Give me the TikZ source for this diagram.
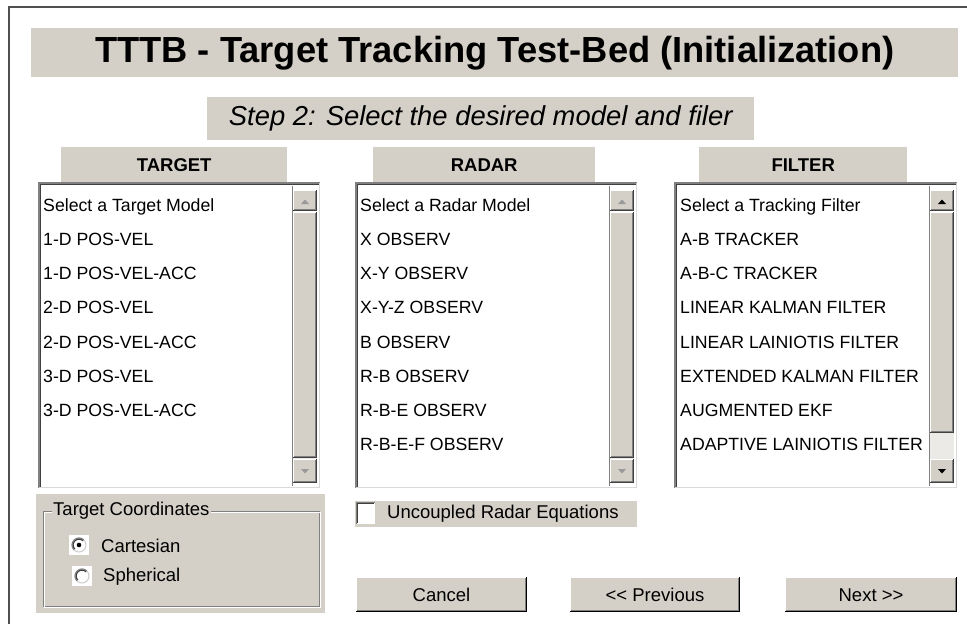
\documentclass[tikz,border=0pt]{standalone}
\usepackage{fontspec}
\setmainfont{Liberation Sans}
\definecolor{winbg}{HTML}{D4D0C8}
\definecolor{winshadow}{HTML}{808080}
\definecolor{windark}{HTML}{404040}
\definecolor{wintrack}{HTML}{ECEAE6}
\definecolor{framecol}{HTML}{505050}
\newcommand\setfs[1]{\fontsize{#1}{#1}\selectfont}
% raised 3D box: x0 y0 x1 y1
\newcommand\raisedbox[4]{%
  \fill[winbg] (#1,#2) rectangle (#3,#4);
  \draw[white,line width=1pt] ({#1+0.5},{#4-1}) -- ({#1+0.5},{#2+0.5}) -- ({#3-1},{#2+0.5});
  \draw[winshadow,line width=1pt] ({#1+1},{#4-1.5}) -- ({#3-1.5},{#4-1.5}) -- ({#3-1.5},{#2+1});
  \draw[windark,line width=1pt] (#1,{#4-0.5}) -- ({#3-0.5},{#4-0.5}) -- ({#3-0.5},#2);
}
% list box: name, x0, x1, arrow colour, thumb end y
\newcommand\mklist[5]{%
  \fill[white] (#2,182) rectangle (#3,488);
  \draw[winshadow,line width=1.5pt] (#2+0.75,488) -- (#2+0.75,182.75) -- (#3,182.75);
  \draw[windark,line width=1pt] (#2+2,487) -- (#2+2,184) -- (#3-1,184);
  \draw[white!85!black,line width=1pt] (#2+1,487.5) -- (#3-0.5,487.5) -- (#3-0.5,183);
  \fill[wintrack] (#3-27,212) rectangle (#3-3,459);
  \raisedbox{#3-27}{190}{#3-3}{211}
  \raisedbox{#3-27}{212}{#3-3}{#5}
  \raisedbox{#3-27}{459}{#3-3}{483}
  \fill[#4] (#3-19,204) -- (#3-11,204) -- (#3-15,199.5) -- cycle;
  \fill[#4] (#3-19,469) -- (#3-11,469) -- (#3-15,473.5) -- cycle;
  \draw[winshadow,line width=0.8pt] (#3-28,186) -- (#3-28,486);
}
\begin{document}
\begin{tikzpicture}[x=1pt,y=-1pt,
  bar/.style={fill=winbg,inner sep=0pt,anchor=north west,text=black},
  item/.style={anchor=base west,inner sep=0pt,font=\setfs{17.7}},
  head/.style={bar,font=\setfs{18.5}\bfseries},
  btntext/.style={anchor=base,inner sep=0pt,font=\setfs{18.5}},
  lbl/.style={inner sep=0pt,font=\setfs{18.5}}]
\useasboundingbox (0,0) rectangle (967,624);
\fill[white] (0,0) rectangle (967,624);
% outer frame
\draw[framecol,line width=1.5pt] (9,624) -- (9,7) -- (967,7);

% title
\node[bar,minimum width=927pt,minimum height=49pt,font=\setfs{36.3}\bfseries] (title) at (31,28)
  {TTTB - Target Tracking Test-Bed (Initialization)};
\node[bar,minimum width=547pt,minimum height=43pt,font=\setfs{27.4}\itshape] (step) at (207,97)
  {Step 2: Select the desired model and filer};

% headers
\node[head,minimum width=226pt,minimum height=36pt] (htarget) at (61,147) {TARGET};
\node[head,minimum width=222pt,minimum height=36pt] (hradar) at (373,147) {RADAR};
\node[head,minimum width=208pt,minimum height=36pt] (hfilter) at (699,147) {FILTER};

% list boxes
\mklist{tlist}{38}{320}{winshadow!80}{458}
\mklist{rlist}{355}{637}{winshadow!80}{458}
\mklist{flist}{674}{957}{black}{433}

% target items
\node[item] (t0) at (43,211.5) {Select a Target Model};
\node[item] (t1) at (43,245.5) {1-D POS-VEL};
\node[item] (t2) at (43,279.5) {1-D POS-VEL-ACC};
\node[item] (t3) at (43,313.5) {2-D POS-VEL};
\node[item] (t4) at (43,348) {2-D POS-VEL-ACC};
\node[item] (t5) at (43,382) {3-D POS-VEL};
\node[item] (t6) at (43,416) {3-D POS-VEL-ACC};
% radar items
\node[item] (r0) at (360,211.5) {Select a Radar Model};
\node[item] (r1) at (360,245.5) {X OBSERV};
\node[item] (r2) at (360,279.5) {X-Y OBSERV};
\node[item] (r3) at (360,313.5) {X-Y-Z OBSERV};
\node[item] (r4) at (360,348) {B OBSERV};
\node[item] (r5) at (360,382) {R-B OBSERV};
\node[item] (r6) at (360,416) {R-B-E OBSERV};
\node[item] (r7) at (360,450) {R-B-E-F OBSERV};
% filter items
\node[item] (f0) at (680,211.5) {Select a Tracking Filter};
\node[item] (f1) at (680,245.5) {A-B TRACKER};
\node[item] (f2) at (680,279.5) {A-B-C TRACKER};
\node[item] (f3) at (680,313.5) {LINEAR KALMAN FILTER};
\node[item] (f4) at (680,348) {LINEAR LAINIOTIS FILTER};
\node[item] (f5) at (680,382) {EXTENDED KALMAN FILTER};
\node[item] (f6) at (680,416) {AUGMENTED EKF};
\node[item] (f7) at (680,450) {ADAPTIVE LAINIOTIS FILTER};

% target coordinates panel
\node[bar,minimum width=289pt,minimum height=119pt] (coordpanel) at (36,494) {};
\draw[winshadow,line width=1pt] (43,511) rectangle (319,606);
\draw[white,line width=1pt] (44,512) rectangle (320,607);
\node[lbl,fill=winbg,anchor=west,inner xsep=1pt] (coordlbl) at (52,511) {Target Coordinates};
% radio buttons
\fill[white] (69,535) rectangle (89,555);
\fill[white] (72,566) rectangle (92,586);
\node[circle,fill=white,minimum size=14pt,inner sep=0pt] (rcart) at (79,545) {};
\node[circle,fill=white,minimum size=14pt,inner sep=0pt] (rsph) at (82,576) {};
\draw[winshadow,line width=1.2pt] (rcart.center) ++(135:7) arc[start angle=135,end angle=315,radius=7];
\draw[windark,line width=1pt] (rcart.center) ++(135:5.8) arc[start angle=135,end angle=315,radius=5.8];
\draw[white!80!black,line width=1pt] (rcart.center) ++(315:7) arc[start angle=-45,end angle=135,radius=7];
\draw[winshadow,line width=1.2pt] (rsph.center) ++(135:7) arc[start angle=135,end angle=315,radius=7];
\draw[windark,line width=1pt] (rsph.center) ++(135:5.8) arc[start angle=135,end angle=315,radius=5.8];
\draw[white!80!black,line width=1pt] (rsph.center) ++(315:7) arc[start angle=-45,end angle=135,radius=7];
\fill[black] (rcart.center) circle[radius=2.3];
\node[lbl,anchor=west] (cart) at (101,546) {Cartesian};
\node[lbl,anchor=west] (sph) at (103,577) {Spherical};

% uncoupled checkbox
\node[bar,minimum width=282pt,minimum height=26pt] (cbbar) at (355,501) {};
\fill[white] (356,502) rectangle (375,524);
\draw[winshadow,line width=1pt] (356.5,524) -- (356.5,502.5) -- (375,502.5);
\draw[windark,line width=1pt] (357.8,523) -- (357.8,503.8) -- (374,503.8);
\node[lbl,anchor=west] (cbtext) at (387,514) {Uncoupled Radar Equations};

% buttons
\raisedbox{356}{577}{527}{612}
\draw[black,line width=1.5pt] (356,611.5) -- (526.5,611.5) -- (526.5,577);
\node[btntext] (cancel) at (441.5,601) {Cancel};
\raisedbox{570}{577}{740}{612}
\draw[black,line width=1.5pt] (570,611.5) -- (739.5,611.5) -- (739.5,577);
\node[btntext] (prev) at (655,601) {{<}{<} Previous};
\raisedbox{785}{577}{957}{612}
\draw[black,line width=1.5pt] (785,611.5) -- (956.5,611.5) -- (956.5,577);
\node[btntext] (next) at (871,601) {Next {>}{>}};
\end{tikzpicture}
\end{document}
